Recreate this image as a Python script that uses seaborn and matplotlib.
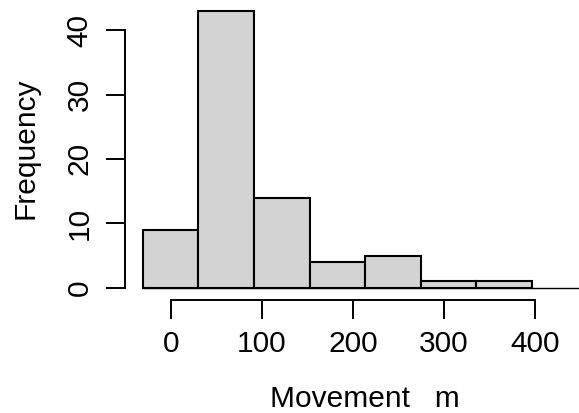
import matplotlib
matplotlib.use("Agg")
import matplotlib.pyplot as plt
import seaborn as sns
import pandas as pd

# Data
bin_edges = [-30.5, 30.5, 91.5, 152.5, 213.5, 274.5, 335.5, 396.5]
counts = [9, 43, 14, 4, 5, 1, 1]
x_ticks = [0, 100, 200, 300, 400]
y_ticks = [0, 10, 20, 30, 40]
x_label = "Movement   m"
y_label = "Frequency"

centers = [(a + b) / 2 for a, b in zip(bin_edges[:-1], bin_edges[1:])]
df = pd.DataFrame({"movement": centers, "count": counts})

sns.set_style("white")
plt.rcParams["font.family"] = ["Liberation Sans", "DejaVu Sans"]
plt.rcParams["text.color"] = "black"
plt.rcParams["axes.labelcolor"] = "black"

fig = plt.figure(figsize=(5.79, 4.13), dpi=100)
ax = fig.add_axes([125 / 579, (413 - 300) / 413, 1 - 125 / 579, 300 / 413])

sns.histplot(data=df, x="movement", weights="count", bins=bin_edges,
             color="#D3D3D3", edgecolor="black", linewidth=1.5, alpha=1.0,
             ax=ax)

# baseline like abline(h=0), from first bar edge to the right edge
ax.hlines(0, bin_edges[0], 470, color="black", linewidth=1.0, zorder=3,
          clip_on=False)

px_per_x = 0.9108
ax.set_xlim((125 - 170.7) / px_per_x, (579 - 170.7) / px_per_x)
px_per_y = 6.44
ax.set_ylim(-(300 - 287.7) / px_per_y, 287.7 / px_per_y)

for s in ["top", "right"]:
    ax.spines[s].set_visible(False)
ax.spines["left"].set_bounds(0, 40)
ax.spines["bottom"].set_bounds(0, 400)
for s in ["left", "bottom"]:
    ax.spines[s].set_linewidth(1.4)
    ax.spines[s].set_color("black")

ax.set_xticks(x_ticks)
ax.set_yticks(y_ticks)
ax.set_xticklabels([str(v) for v in x_ticks])
ax.set_yticklabels([str(v) for v in y_ticks], rotation=90, va="center")
ax.tick_params(axis="both", which="major", direction="out", length=13.7,
               width=1.4, colors="black", labelcolor="black", labelsize=21.5,
               bottom=True, left=True, top=False, right=False)
ax.tick_params(axis="x", pad=8)
ax.tick_params(axis="y", pad=9)

ax.set_xlabel(x_label, fontsize=21.5, color="black")
ax.set_ylabel(y_label, fontsize=21.5, color="black")
ax.yaxis.label.set_va("center")
ax.xaxis.label.set_va("center")
ax.yaxis.set_label_coords(-(125 - 25) / 454, 1 - 148 / 300)
ax.xaxis.set_label_coords((365 - 125) / 454, -(399 - 300) / 300)

fig.savefig("out.png", dpi=100)
